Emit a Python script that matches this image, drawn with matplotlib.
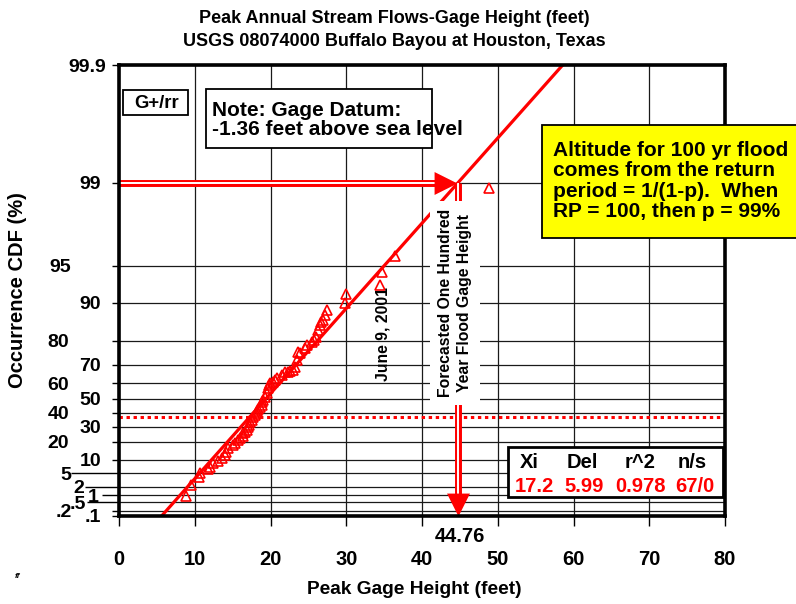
import numpy as np
import matplotlib
matplotlib.use('Agg')
import matplotlib.pyplot as plt
from matplotlib.patches import Rectangle
from matplotlib.transforms import Affine2D

plt.rcParams['font.family'] = ['Liberation Sans', 'DejaVu Sans']
plt.rcParams['font.weight'] = 'bold'

# ---------------- data ----------------
title_lines = ["Peak Annual Stream Flows-Gage Height (feet)",
               "USGS 08074000 Buffalo Bayou at Houston, Texas"]
x_label = "Peak Gage Height (feet)"
y_label = "Occurrence CDF (%)"

gage_ft = [8.8, 9.5, 10.5, 10.7, 11.7, 12.0, 12.4, 13.1, 13.6, 14.0,
           14.1, 14.4, 15.0, 15.3, 15.7, 16.0, 16.4, 16.4, 16.6, 16.9,
           17.0, 17.2, 17.3, 17.6, 17.7, 17.9, 18.1, 18.2, 18.3, 18.6,
           18.9, 18.9, 19.0, 19.3, 19.5, 19.7, 19.8, 19.9, 20.3, 20.6,
           20.8, 21.5, 21.9, 22.3, 22.6, 23.0, 23.2, 23.5, 23.6, 23.9,
           24.5, 24.8, 25.5, 25.7, 26.0, 26.3, 26.5, 26.7, 26.9, 27.2,
           27.4, 29.8, 30.0, 34.4, 34.7, 36.4, 48.9]
cdf_pct = [0.94, 2.3, 4.0, 5.1, 6.4, 7.1, 8.7, 9.5, 10.9, 12.4,
           13.9, 16.2, 17.9, 19.2, 21.1, 22.4, 24.0, 25.7, 26.4, 27.8,
           29.9, 31.3, 33.5, 34.9, 37.1, 38.5, 40.0, 41.4, 42.8, 44.2,
           45.7, 47.5, 49.1, 51.2, 53.8, 57.0, 58.9, 60.1, 60.7, 61.9,
           63.0, 64.7, 66.3, 66.5, 66.9, 67.4, 68.9, 72.3, 75.8, 75.4,
           77.4, 78.5, 79.6, 80.3, 81.3, 83.5, 84.9, 85.7, 86.2, 87.4,
           88.5, 89.9, 91.5, 92.8, 94.4, 95.9, 98.9]

xi = 17.2
delta = 5.99
r_squared = 0.978
n_s = "67/0"
design_pct = 99.0          # 100-yr return period
forecast_ft = 44.76

ytick_pct = [0.1, 0.2, 0.5, 1, 2, 5, 10, 20, 30, 40, 50, 60, 70, 80, 90, 95, 99, 99.9]
ytick_labels = ['.1', '.2', '.5', '1', '2', '5', '10', '20', '30', '40', '50',
                '60', '70', '80', '90', '95', '99', '99.9']
xticks = [0, 10, 20, 30, 40, 50, 60, 70, 80]

note_text = "Note: Gage Datum:\n-1.36 feet above sea level"
yellow_text = ("Altitude for 100 yr flood\ncomes from the return\n"
               "period = 1/(1-p).  When\nRP = 100, then p = 99%")
forecast_text = "Forecasted One Hundred\nYear Flood Gage Height"
event_text = "June 9, 2001"
model_text = "G+/rr"
stat_heads = ["Xi", "Del", "r^2", "n/s"]
stat_vals = [f"{xi}", f"{delta}", f"{r_squared}", n_s]


def gumbel(p_pct):
    return -np.log(-np.log(np.asarray(p_pct, dtype=float) / 100.0))


# ---------------- figure ----------------
W, H = 796, 604
fig = plt.figure(figsize=(W / 100, H / 100), dpi=100)
PX = Affine2D().scale(1 / W, -1 / H).translate(0, 1) + fig.transFigure
ax = fig.add_axes([119 / W, 1 - 516 / H, 606 / W, 451 / H])

ymin, ymax = gumbel(ytick_pct[0]), gumbel(ytick_pct[-1])
ax.set_xlim(xticks[0], xticks[-1])
ax.set_ylim(ymin, ymax)
ax.set_xticks(xticks)
ax.set_xticklabels([str(t) for t in xticks])
ax.set_yticks(gumbel(ytick_pct))
ax.set_yticklabels(ytick_labels)
ax.grid(True, color='#1a1a1a', lw=0.9, zorder=0)
ax.set_axisbelow(True)
for s in ax.spines.values():
    s.set_linewidth(2.6)
    s.set_zorder(8)

ax.tick_params(axis='x', length=10 * 0.72, width=1, pad=17, labelsize=14.5)
ax.tick_params(axis='y', width=1, labelsize=14)

# staggered y tick labels: (label distance from axis, tick length) in px
yt_dist = [18, 47, 33, 20, 35, 48, 18, 50, 18, 50, 18, 50, 18, 50, 18, 48, 18, 13]
yt_len = [7, 7, 32, 17, 34, 48, 7, 7, 7, 7, 7, 7, 7, 7, 7, 7, 7, 7]
for tick, d, L in zip(ax.yaxis.get_major_ticks(), yt_dist, yt_len):
    tick._apply_params(size=L * 0.72, pad=max(d - L, 0) * 0.72)

# Xi reference (reduced variate 0)
ax.axhline(0.0, color='red', lw=2.2, linestyle=(0, (1.1, 1.2)),
           dash_capstyle='butt', zorder=2)

# fitted Gumbel line
r_line = np.array([ymin, ymax])
ax.plot(xi + delta * r_line, r_line, color='red', lw=2.3, zorder=3,
        solid_capstyle='butt')

# data points
ax.plot(gage_ft, gumbel(cdf_pct), linestyle='none', marker='^', ms=7,
        mfc='none', mec='red', mew=1.2, zorder=4)

# arrows for the 100-yr forecast
r99 = gumbel(design_pct)
x100 = xi + delta * r99
head_r = [(0, 0), (-1, 0.5), (-1, -0.5), (0, 0)]
head_d = [(0, 0), (-0.5, 1), (0.5, 1), (0, 0)]
for lw, col in [(5.0, 'red'), (1.4, 'white')]:
    ax.plot([xticks[0], x100 - 1.5], [r99, r99], color=col, lw=lw,
            solid_capstyle='butt', zorder=5, clip_on=False)
    ax.plot([x100, x100], [r99, ymin + 0.2], color=col, lw=lw,
            solid_capstyle='butt', zorder=5, clip_on=False)
ax.plot([x100 - 0.2], [r99], marker=head_r, ms=33, color='red', mew=0,
        zorder=5, clip_on=False)
ax.plot([x100], [ymin], marker=head_d, ms=33, color='red', mew=0,
        zorder=5, clip_on=False)

ax.text(x100 + 0.3, -0.045, f"{forecast_ft:.2f}", transform=ax.get_xaxis_transform(),
        ha='center', va='center', fontsize=14.5, zorder=9, clip_on=False)

# rotated labels
ax.text(455, 303, forecast_text, transform=PX, rotation=90, ha='center', va='center',
        multialignment='center', fontsize=11.3, linespacing=1.33, zorder=6,
        bbox=dict(boxstyle='square,pad=0.5', facecolor='white', edgecolor='none'))
ax.text(383, 334, event_text, transform=PX, rotation=90, ha='center', va='center',
        fontsize=11.3, zorder=6)

# boxes
def box(x0, y0, x1, y1, fc='white', lw=1.3):
    fig.add_artist(Rectangle((x0, y0), x1 - x0, y1 - y0, transform=PX,
                             facecolor=fc, edgecolor='black', lw=lw, zorder=10))

box(123, 90, 188, 115)
fig.text(157, 103, model_text, transform=PX, ha='center', va='center',
         fontsize=13.3, zorder=11)
box(206, 89, 432, 148)
fig.text(212, 120, note_text, transform=PX, ha='left', va='center',
         fontsize=15, linespacing=0.97, zorder=11)
box(542, 125, 800, 238, fc='#ffff00')
fig.text(553, 181, yellow_text, transform=PX, ha='left', va='center',
         fontsize=15, linespacing=1.07, zorder=11)
box(508, 447, 723, 497, lw=2.0)
for xc, h in zip([529, 582, 640, 692], stat_heads):
    fig.text(xc, 463, h, transform=PX, ha='center', va='center', fontsize=14.5, zorder=11)
for xc, v in zip([534, 584, 640, 695], stat_vals):
    fig.text(xc, 487, v, transform=PX, ha='center', va='center', fontsize=14.5,
             color='red', zorder=11)

# titles and axis labels
fig.text(394, 30, "\n".join(title_lines), transform=PX, ha='center', va='center',
         fontsize=13, linespacing=1.4)
fig.text(414, 590, x_label, transform=PX, ha='center', va='center', fontsize=13.8)
fig.text(18, 290, y_label, transform=PX, ha='center', va='center', fontsize=14.5,
         rotation=90)
fig.text(17, 576, "ff", transform=PX, ha='center', va='center', fontsize=6,
         style='italic')

fig.savefig('out.png', dpi=100)
